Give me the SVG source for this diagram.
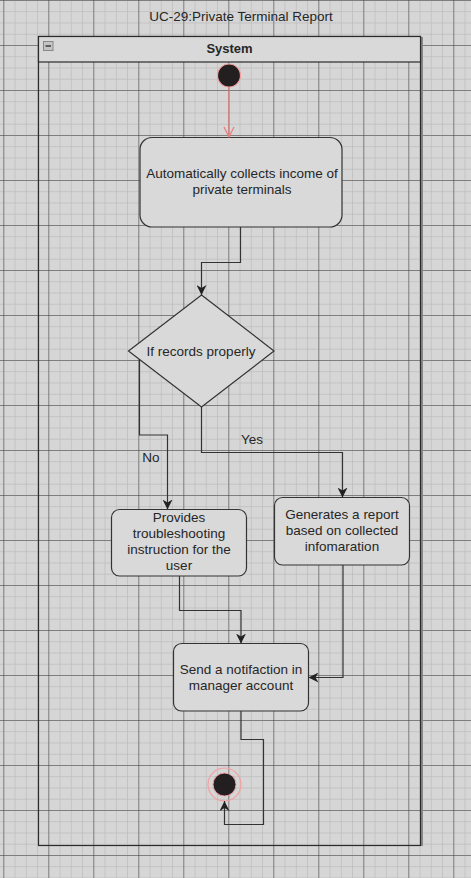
<svg xmlns="http://www.w3.org/2000/svg" width="471" height="878" viewBox="0 0 471 878">
<defs>
<pattern id="minor" patternUnits="userSpaceOnUse" x="3.3" y="0" width="11.25" height="11.25">
<path d="M0 0V11.25M0 0H11.25" stroke="#bcbcbc" stroke-width="1.4" fill="none"/>
</pattern>
<pattern id="major" patternUnits="userSpaceOnUse" x="3.3" y="0" width="45" height="45">
<path d="M0 0V45M0 0H45" stroke="#3a3a3a" stroke-width="1" fill="none"/>
</pattern>
<marker id="arr" viewBox="0 0 10 10" refX="10" refY="5" markerWidth="10" markerHeight="10" markerUnits="userSpaceOnUse" orient="auto">
<path d="M0 0L10 5L0 10L3 5Z" fill="#222"/>
</marker>
<marker id="open" viewBox="0 0 12 12" refX="11" refY="6" markerWidth="12" markerHeight="12" markerUnits="userSpaceOnUse" orient="auto">
<path d="M1 1L11 6L1 11" fill="none" stroke="#f07a7a" stroke-width="1.2"/>
</marker>
</defs>
<style>
text{font-family:"Liberation Sans",Arial,sans-serif;fill:#262626;}
.lbl{font-size:13.5px;text-anchor:middle;}
.act{fill:#d9d9d9;stroke:#333;stroke-width:1.2;}
.conn path{fill:none;stroke:#333;stroke-width:1.2;}
</style>
<rect width="471" height="878" fill="#d6d6d6"/>
<rect width="471" height="878" fill="url(#minor)"/>
<rect width="471" height="878" fill="url(#major)"/>

<text x="241" y="21" font-size="13.5" text-anchor="middle" fill="#333">UC-29:Private Terminal Report</text>

<g id="lane">
<line x1="422" y1="37" x2="422" y2="846" stroke="#888" stroke-width="2"/>
<rect x="38.5" y="36.5" width="382" height="809" fill="none" stroke="#2a2a2a" stroke-width="1.2"/>
<rect x="38.5" y="36.5" width="382" height="25.5" fill="#d9d9d9" stroke="#2a2a2a" stroke-width="1.2"/>
<rect x="43.5" y="41.5" width="9.5" height="9" fill="#c4c4c4" stroke="#888" stroke-width="1"/>
<line x1="45.5" y1="46" x2="51" y2="46" stroke="#333" stroke-width="1.4"/>
<text x="229.5" y="53" font-size="13" font-weight="bold" text-anchor="middle">System</text>
</g>

<g id="start">
<circle cx="229" cy="75.5" r="11.5" fill="#231f20" stroke="#f4a0a0" stroke-width="1.2"/>
</g>

<g id="act1">
<rect class="act" x="140" y="137.5" width="202" height="89.5" rx="12"/>
<text class="lbl" x="242" y="178">Automatically collects income of</text>
<text class="lbl" x="242" y="194">private terminals</text>
</g>

<g id="decision">
<polygon points="201.5,295 274,351 201.5,407 128.5,351" fill="#d9d9d9" stroke="#333" stroke-width="1.2"/>
<text class="lbl" x="201" y="355.5">If records properly</text>
</g>

<g id="act2">
<rect class="act" x="111.5" y="509.5" width="135" height="66.5" rx="8"/>
<text class="lbl" x="179" y="522">Provides</text>
<text class="lbl" x="179" y="538">troubleshooting</text>
<text class="lbl" x="179" y="554">instruction for the</text>
<text class="lbl" x="179" y="570">user</text>
</g>

<g id="act3">
<rect class="act" x="274.5" y="497.5" width="135" height="67.5" rx="8"/>
<text class="lbl" x="342" y="519">Generates a report</text>
<text class="lbl" x="342" y="535">based on collected</text>
<text class="lbl" x="342" y="551">infomaration</text>
</g>

<g id="act4">
<rect class="act" x="173.5" y="643.5" width="135" height="67.5" rx="8"/>
<text class="lbl" x="241" y="674">Send a notifaction in</text>
<text class="lbl" x="241" y="690">manager account</text>
</g>

<g id="end">
<circle cx="224.5" cy="784.5" r="16.5" fill="none" stroke="#f4a0a0" stroke-width="1.2"/>
<circle cx="224.5" cy="784.5" r="11.5" fill="#231f20" stroke="#f4a0a0" stroke-width="1"/>
</g>

<g id="connectors" class="conn">
<path d="M229 87V137" style="stroke:#f07a7a" marker-end="url(#open)"/>
<path d="M240.5 227V262.5H201.5V295" marker-end="url(#arr)"/>
<path d="M139.5 360V435H167.5V509.5" marker-end="url(#arr)"/>
<path d="M201.5 407V452.5H342.5V497.5" marker-end="url(#arr)"/>
<path d="M179.5 576V610.5H241V643.5" marker-end="url(#arr)"/>
<path d="M343 565V677.5H308.5" marker-end="url(#arr)"/>
<path d="M241 711V739.5H263.5V824.5H224.5V801" marker-end="url(#arr)"/>
</g>
<text x="151" y="462" font-size="13.5" text-anchor="middle">No</text>
<text x="252" y="444" font-size="13.5" text-anchor="middle">Yes</text>
</svg>
